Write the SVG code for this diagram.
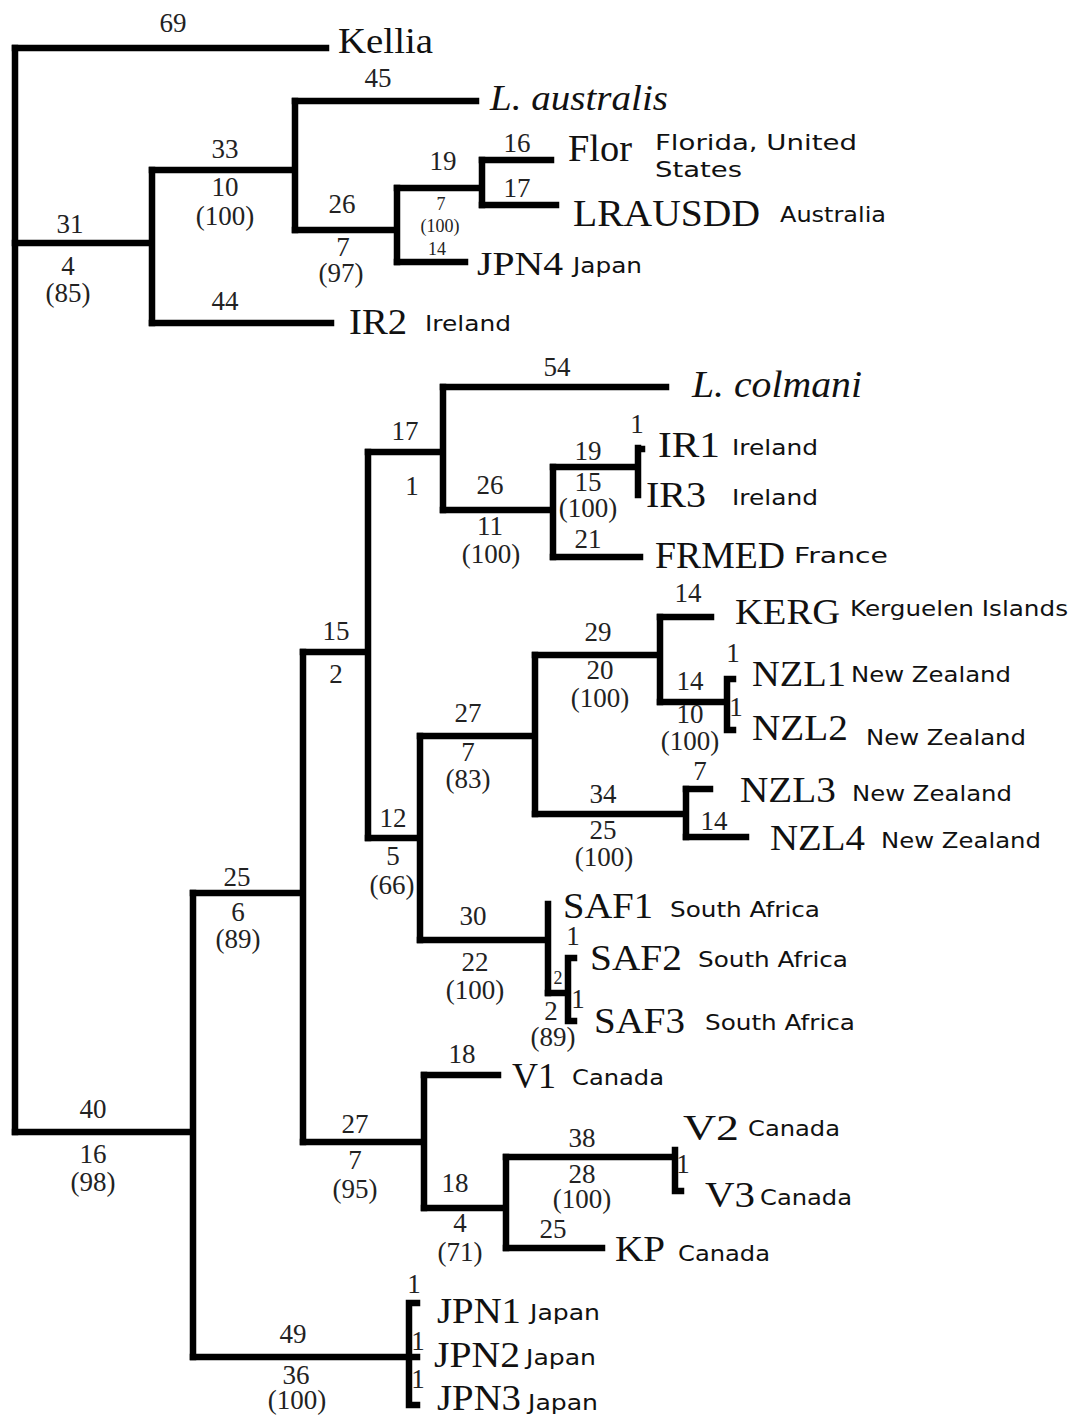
<svg xmlns="http://www.w3.org/2000/svg" width="1078" height="1420" viewBox="0 0 1078 1420">
<style>
.br{fill:none;stroke:#000;stroke-width:6.5;stroke-linecap:square;stroke-linejoin:miter}
.n{font-family:"Liberation Serif","Times New Roman",serif;font-size:27px;fill:#222;text-anchor:middle}
.s{font-family:"Liberation Serif","Times New Roman",serif;font-size:18px;fill:#222;text-anchor:middle}
.tip{font-family:"Liberation Serif","Times New Roman",serif;font-size:36px;fill:#111}
.it{font-style:italic}
.c{font-family:"DejaVu Sans",Verdana,sans-serif;font-size:21px;fill:#111}
</style>
<rect width="1078" height="1420" fill="#fff"/>
<g id="connectors" class="br">
<path d="M15,48 V1132"/>
<path d="M15,48 H326"/>
<path d="M15,243 H152 M152,170 V323"/>
<path d="M152,170 H295 M295,101 V230"/>
<path d="M295,101 H476"/>
<path d="M295,230 H397 M397,188 V262"/>
<path d="M397,188 H482 M482,160 V205"/>
<path d="M482,160 H551"/>
<path d="M482,205 H556"/>
<path d="M397,262 H465"/>
<path d="M152,323 H331"/>
<path d="M15,1132 H193 M193,893 V1357"/>
<path d="M193,893 H303 M303,652 V1142"/>
<path d="M303,652 H368 M368,452 V838"/>
<path d="M368,452 H443 M443,387 V510"/>
<path d="M443,387 H666"/>
<path d="M443,510 H553 M553,467 V557"/>
<path d="M553,467 H638 M638,448 V495 M638,449 H642"/>
<path d="M553,557 H640"/>
<path d="M368,838 H420 M420,736 V940"/>
<path d="M420,736 H535 M535,655 V814"/>
<path d="M535,655 H660 M660,617 V702"/>
<path d="M660,617 H711"/>
<path d="M660,702 H727 M727,679 V730 M727,679 H733 M727,730 H733"/>
<path d="M535,814 H686 M686,789 V837"/>
<path d="M686,789 H710"/>
<path d="M686,837 H746"/>
<path d="M420,940 H548 M548,904 V993"/>
<path d="M548,993 H568 M568,958 V1021 M568,958 H574 M568,1021 H574"/>
<path d="M303,1142 H424 M424,1075 V1208"/>
<path d="M424,1075 H498"/>
<path d="M424,1208 H506 M506,1157 V1248"/>
<path d="M506,1157 H673 M675,1150 V1191 M675,1191 H681"/>
<path d="M506,1248 H602"/>
<path d="M193,1357 H417 M409,1303 V1405 M409,1303 H417 M409,1405 H417"/>
</g>
<g id="branch-labels">
<text class="n" x="173" y="32">69</text>
<text class="n" x="70" y="233">31</text>
<text class="n" x="68" y="275">4</text>
<text class="n" x="68" y="302">(85)</text>
<text class="n" x="225" y="158">33</text>
<text class="n" x="225" y="196">10</text>
<text class="n" x="225" y="225">(100)</text>
<text class="n" x="378" y="87">45</text>
<text class="n" x="342" y="213">26</text>
<text class="n" x="343" y="256">7</text>
<text class="n" x="341" y="282">(97)</text>
<text class="n" x="443" y="170">19</text>
<text class="s" x="441" y="210">7</text>
<text class="s" x="440" y="232">(100)</text>
<text class="s" x="437" y="255">14</text>
<text class="n" x="517" y="152">16</text>
<text class="n" x="517" y="197">17</text>
<text class="n" x="225" y="310">44</text>
<text class="n" x="557" y="376">54</text>
<text class="n" x="405" y="440">17</text>
<text class="n" x="412" y="495">1</text>
<text class="n" x="490" y="494">26</text>
<text class="n" x="490" y="535">11</text>
<text class="n" x="491" y="563">(100)</text>
<text class="n" x="588" y="460">19</text>
<text class="n" x="588" y="491">15</text>
<text class="n" x="588" y="517">(100)</text>
<text class="n" x="637" y="433">1</text>
<text class="n" x="588" y="548">21</text>
<text class="n" x="336" y="640">15</text>
<text class="n" x="336" y="683">2</text>
<text class="n" x="393" y="827">12</text>
<text class="n" x="393" y="865">5</text>
<text class="n" x="392" y="894">(66)</text>
<text class="n" x="468" y="722">27</text>
<text class="n" x="468" y="761">7</text>
<text class="n" x="468" y="788">(83)</text>
<text class="n" x="598" y="641">29</text>
<text class="n" x="600" y="679">20</text>
<text class="n" x="600" y="707">(100)</text>
<text class="n" x="688" y="602">14</text>
<text class="n" x="690" y="690">14</text>
<text class="n" x="690" y="723">10</text>
<text class="n" x="690" y="750">(100)</text>
<text class="n" x="733" y="662">1</text>
<text class="n" x="736" y="716">1</text>
<text class="n" x="603" y="803">34</text>
<text class="n" x="603" y="839">25</text>
<text class="n" x="604" y="866">(100)</text>
<text class="n" x="700" y="780">7</text>
<text class="n" x="714" y="830">14</text>
<text class="n" x="473" y="925">30</text>
<text class="n" x="475" y="971">22</text>
<text class="n" x="475" y="999">(100)</text>
<text class="s" x="558" y="984">2</text>
<text class="n" x="551" y="1020">2</text>
<text class="n" x="553" y="1046">(89)</text>
<text class="n" x="573" y="945">1</text>
<text class="n" x="578" y="1008">1</text>
<text class="n" x="237" y="886">25</text>
<text class="n" x="238" y="921">6</text>
<text class="n" x="238" y="948">(89)</text>
<text class="n" x="93" y="1118">40</text>
<text class="n" x="93" y="1163">16</text>
<text class="n" x="93" y="1191">(98)</text>
<text class="n" x="355" y="1133">27</text>
<text class="n" x="355" y="1169">7</text>
<text class="n" x="355" y="1198">(95)</text>
<text class="n" x="462" y="1063">18</text>
<text class="n" x="455" y="1192">18</text>
<text class="n" x="460" y="1232">4</text>
<text class="n" x="460" y="1261">(71)</text>
<text class="n" x="582" y="1147">38</text>
<text class="n" x="582" y="1183">28</text>
<text class="n" x="582" y="1208">(100)</text>
<text class="n" x="683" y="1173">1</text>
<text class="n" x="553" y="1238">25</text>
<text class="n" x="293" y="1343">49</text>
<text class="n" x="296" y="1384">36</text>
<text class="n" x="297" y="1409">(100)</text>
<text class="n" x="414" y="1293">1</text>
<text class="n" x="418" y="1350">1</text>
<text class="n" x="418" y="1388">1</text>
</g>
<g id="node-kellia"><text class="tip" x="338" y="53" font-size="32" textLength="95" lengthAdjust="spacingAndGlyphs">Kellia</text></g>
<g id="node-laustralis"><text class="tip it" x="490" y="110" font-size="34" textLength="178" lengthAdjust="spacingAndGlyphs">L. australis</text></g>
<g id="node-flor"><text class="tip" x="568" y="161" style="font-size:37px" textLength="64" lengthAdjust="spacingAndGlyphs">Flor</text><text class="c" x="655" y="150" textLength="202" lengthAdjust="spacingAndGlyphs">Florida, United</text><text class="c" x="655" y="177" textLength="87" lengthAdjust="spacingAndGlyphs">States</text></g>
<g id="node-lrausdd"><text class="tip" x="573" y="226" style="font-size:38px" textLength="187" lengthAdjust="spacingAndGlyphs">LRAUSDD</text><text class="c" x="780" y="222" textLength="106" lengthAdjust="spacingAndGlyphs">Australia</text></g>
<g id="node-jpn4"><text class="tip" x="477" y="275" style="font-size:34px" textLength="86" lengthAdjust="spacingAndGlyphs">JPN4</text><text class="c" x="573" y="273" textLength="69" lengthAdjust="spacingAndGlyphs">Japan</text></g>
<g id="node-ir2"><text class="tip" x="349" y="334" textLength="58" lengthAdjust="spacingAndGlyphs">IR2</text><text class="c" x="425" y="331" textLength="86" lengthAdjust="spacingAndGlyphs">Ireland</text></g>
<g id="node-lcolmani"><text class="tip it" x="692" y="397" style="font-size:37px" textLength="170" lengthAdjust="spacingAndGlyphs">L. colmani</text></g>
<g id="node-ir1"><text class="tip" x="658" y="457" textLength="62" lengthAdjust="spacingAndGlyphs">IR1</text><text class="c" x="732" y="455" textLength="86" lengthAdjust="spacingAndGlyphs">Ireland</text></g>
<g id="node-ir3"><text class="tip" x="646" y="507" textLength="60" lengthAdjust="spacingAndGlyphs">IR3</text><text class="c" x="732" y="505" textLength="86" lengthAdjust="spacingAndGlyphs">Ireland</text></g>
<g id="node-frmed"><text class="tip" x="655" y="568" style="font-size:38px" textLength="130" lengthAdjust="spacingAndGlyphs">FRMED</text><text class="c" x="794" y="563" textLength="94" lengthAdjust="spacingAndGlyphs">France</text></g>
<g id="node-kerg"><text class="tip" x="735" y="624" textLength="105" lengthAdjust="spacingAndGlyphs">KERG</text><text class="c" x="850" y="616" textLength="218" lengthAdjust="spacingAndGlyphs">Kerguelen Islands</text></g>
<g id="node-nzl1"><text class="tip" x="752" y="686" textLength="94" lengthAdjust="spacingAndGlyphs">NZL1</text><text class="c" x="851" y="682" textLength="160" lengthAdjust="spacingAndGlyphs">New Zealand</text></g>
<g id="node-nzl2"><text class="tip" x="752" y="740" textLength="96" lengthAdjust="spacingAndGlyphs">NZL2</text><text class="c" x="866" y="745" textLength="160" lengthAdjust="spacingAndGlyphs">New Zealand</text></g>
<g id="node-nzl3"><text class="tip" x="740" y="802" textLength="96" lengthAdjust="spacingAndGlyphs">NZL3</text><text class="c" x="852" y="801" textLength="160" lengthAdjust="spacingAndGlyphs">New Zealand</text></g>
<g id="node-nzl4"><text class="tip" x="770" y="850" textLength="95" lengthAdjust="spacingAndGlyphs">NZL4</text><text class="c" x="881" y="848" textLength="160" lengthAdjust="spacingAndGlyphs">New Zealand</text></g>
<g id="node-saf1"><text class="tip" x="563" y="918" textLength="90" lengthAdjust="spacingAndGlyphs">SAF1</text><text class="c" x="670" y="917" textLength="150" lengthAdjust="spacingAndGlyphs">South Africa</text></g>
<g id="node-saf2"><text class="tip" x="590" y="970" textLength="92" lengthAdjust="spacingAndGlyphs">SAF2</text><text class="c" x="698" y="967" textLength="150" lengthAdjust="spacingAndGlyphs">South Africa</text></g>
<g id="node-saf3"><text class="tip" x="594" y="1033" textLength="91" lengthAdjust="spacingAndGlyphs">SAF3</text><text class="c" x="705" y="1030" textLength="150" lengthAdjust="spacingAndGlyphs">South Africa</text></g>
<g id="node-v1"><text class="tip" x="512" y="1088" textLength="44" lengthAdjust="spacingAndGlyphs">V1</text><text class="c" x="572" y="1085" textLength="92" lengthAdjust="spacingAndGlyphs">Canada</text></g>
<g id="node-v2"><text class="tip" x="683" y="1140" textLength="56" lengthAdjust="spacingAndGlyphs">V2</text><text class="c" x="748" y="1136" textLength="92" lengthAdjust="spacingAndGlyphs">Canada</text></g>
<g id="node-v3"><text class="tip" x="705" y="1207" textLength="50" lengthAdjust="spacingAndGlyphs">V3</text><text class="c" x="760" y="1205" textLength="92" lengthAdjust="spacingAndGlyphs">Canada</text></g>
<g id="node-kp"><text class="tip" x="615" y="1261" textLength="50" lengthAdjust="spacingAndGlyphs">KP</text><text class="c" x="678" y="1261" textLength="92" lengthAdjust="spacingAndGlyphs">Canada</text></g>
<g id="node-jpn1"><text class="tip" x="437" y="1323" textLength="84" lengthAdjust="spacingAndGlyphs">JPN1</text><text class="c" x="530" y="1320" textLength="70" lengthAdjust="spacingAndGlyphs">Japan</text></g>
<g id="node-jpn2"><text class="tip" x="434" y="1367" textLength="86" lengthAdjust="spacingAndGlyphs">JPN2</text><text class="c" x="526" y="1365" textLength="70" lengthAdjust="spacingAndGlyphs">Japan</text></g>
<g id="node-jpn3"><text class="tip" x="437" y="1410" textLength="84" lengthAdjust="spacingAndGlyphs">JPN3</text><text class="c" x="528" y="1410" textLength="70" lengthAdjust="spacingAndGlyphs">Japan</text></g>
</svg>
